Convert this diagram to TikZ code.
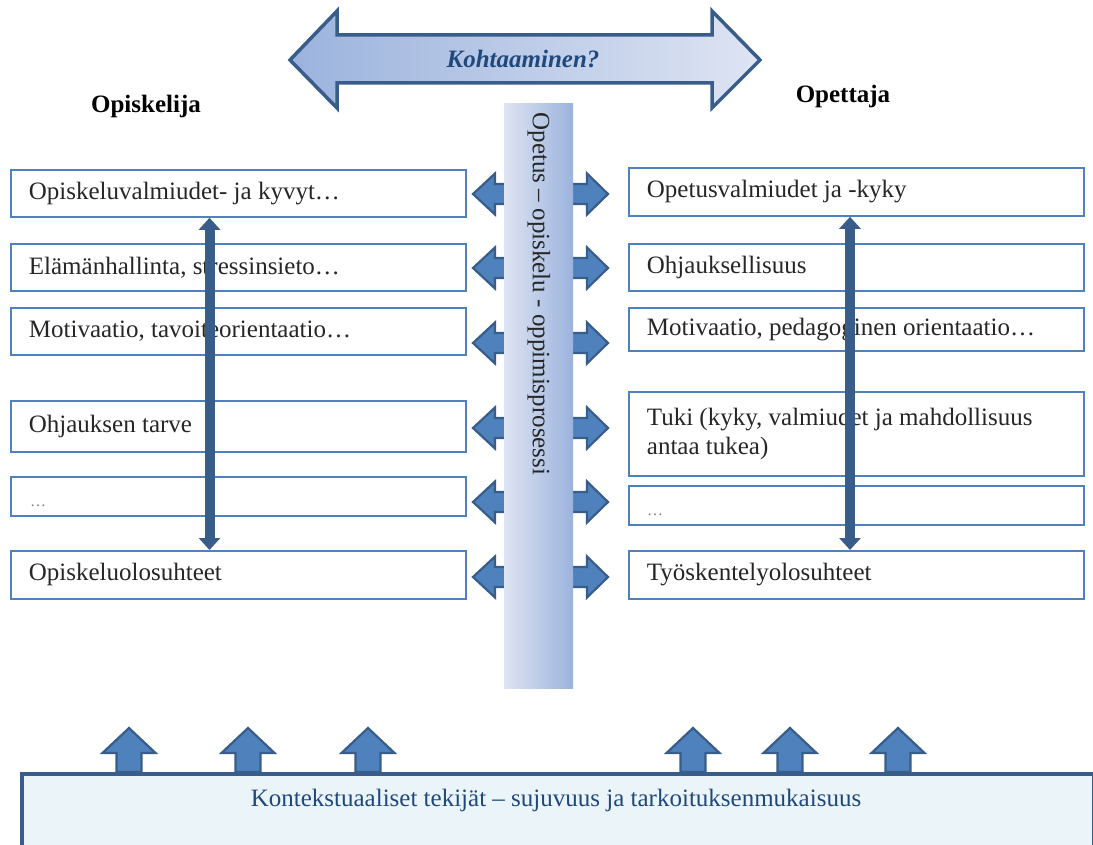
\documentclass[tikz,border=0pt]{standalone}
\usepackage{fontspec}
\setmainfont{Liberation Serif}
\usetikzlibrary{arrows.meta}
\definecolor{boxblue}{HTML}{4F81BD}
\definecolor{darkblue}{HTML}{385D8A}
\definecolor{textblue}{HTML}{1F497D}
\definecolor{bottomfill}{HTML}{EBF4F8}
\definecolor{graddark}{HTML}{9BB3DD}
\definecolor{gradlight}{HTML}{DEE4F3}
\definecolor{bodytext}{HTML}{262626}
\tikzset{
  box/.style={draw=boxblue, line width=1.8pt, rectangle, minimum width=455pt,
    text width=419pt, inner xsep=18pt, inner ysep=0pt, align=flush left, anchor=north west,
    font=\fontsize{25}{29}\selectfont, text=bodytext},
  heading/.style={font=\fontsize{25}{29}\selectfont\bfseries, text=black},
  smallarrow/.style={fill=boxblue, draw=darkblue, line width=2.2pt, line join=miter},
  vdarrow/.style={draw=darkblue, line width=10pt,
    {Triangle[width=21pt,length=12pt]}-{Triangle[width=21pt,length=12pt]}},
  dots/.style={font=\fontsize{16}{18}\selectfont, text=gray, anchor=base west, inner sep=0pt}
}
\begin{document}
\begin{tikzpicture}[x=1pt,y=-1pt]
\useasboundingbox (0,0) rectangle (1093,845);
% top double arrow
\path[left color=graddark, right color=gradlight, draw=darkblue, line width=3.5pt, line join=miter]
  (290,60) -- (337,11) -- (337,35) -- (712,35) -- (712,11) -- (760,60) -- (712,108)
  -- (712,83) -- (337,83) -- (337,108) -- cycle;
\node[font=\fontsize{25}{29}\selectfont\bfseries\itshape, text=textblue] (meet) at (523,59) {Kohtaaminen?};
% headings
\node[heading] (stud) at (146,106) {Opiskelija};
\node[heading] (teach) at (843,96) {Opettaja};
% small double arrows
\foreach \y in {194,268,343,428,502,577}{
  \draw[smallarrow] (473,\y) -- (495,{\y-20.5}) -- (495,{\y-10}) -- (587,{\y-10}) -- (587,{\y-20.5})
    -- (608,\y) -- (587,{\y+20.5}) -- (587,{\y+10}) -- (495,{\y+10}) -- (495,{\y+20.5}) -- cycle;
}
% central bar
\path[left color=gradlight, right color=graddark] (504,104) rectangle (573,688);
\node[rotate=-90, font=\fontsize{25}{29}\selectfont, text=bodytext] (process) at (539,294)
  {Opetus – opiskelu - oppimisprosessi};
% left boxes
\node[box, minimum height=47pt] (L1) at (10,169) {Opiskeluvalmiudet- ja kyvyt…};
\node[box, minimum height=47pt] (L2) at (10,243) {Elämänhallinta, stressinsieto…};
\node[box, minimum height=47pt] (L3) at (10,307) {Motivaatio, tavoiteorientaatio…};
\node[box, minimum height=51pt] (L4) at (10,400) {Ohjauksen tarve};
\node[box, minimum height=39pt] (L5) at (10,476) {};
\node[box, minimum height=48pt] (L6) at (10,550) {Opiskeluolosuhteet};
\node[dots] (L5dots) at (30,506) {…};
% right boxes
\node[box, minimum height=48pt] (R1) at (628,167) {Opetusvalmiudet ja -kyky};
\node[box, minimum height=47pt] (R2) at (628,243) {Ohjauksellisuus};
\node[box, minimum height=43pt] (R3) at (628,307) {Motivaatio, pedagoginen orientaatio…};
\node[box, minimum height=84pt] (R4) at (628,391) {Tuki (kyky, valmiudet ja mahdollisuus\\antaa tukea)};
\node[box, minimum height=39pt] (R5) at (628,485) {};
\node[box, minimum height=48pt] (R6) at (628,550) {Työskentelyolosuhteet};
\node[dots] (R5dots) at (647,515) {…};
% vertical double arrows
\coordinate (lx) at (209.5,0);
\coordinate (rx) at (850,0);
\draw[vdarrow] (lx |- L1.south) -- (lx |- L6.north);
\draw[vdarrow] (rx |- R1.south) -- (rx |- R6.north);
% up arrows
\foreach \cx in {129,248,368,693,790,898}{
  \draw[smallarrow] (\cx,728) -- ({\cx+26.5},753) -- ({\cx+12.5},753) -- ({\cx+12.5},772)
    -- ({\cx-12.5},772) -- ({\cx-12.5},753) -- ({\cx-26.5},753) -- cycle;
}
% bottom box
\node[draw=darkblue, fill=bottomfill, line width=4pt, minimum width=1072pt, minimum height=90pt,
  anchor=north west, inner sep=0pt] (context) at (20,772) {};
\node[font=\fontsize{25}{29}\selectfont, text=textblue] (contexttext) at (556,800)
  {Kontekstuaaliset tekijät – sujuvuus ja tarkoituksenmukaisuus};
\end{tikzpicture}
\end{document}
